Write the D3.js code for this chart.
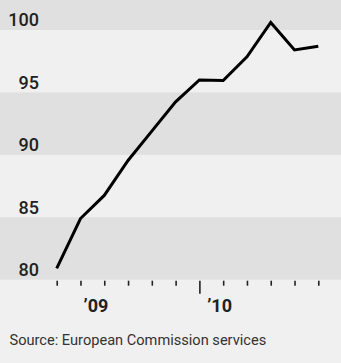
<!DOCTYPE html>
<html>
<head>
<meta charset="utf-8">
<script src="https://cdn.jsdelivr.net/npm/d3@7"></script>
<style>
  html, body { margin: 0; padding: 0; background: #f0f0f0; }
  svg { display: block; }
</style>
</head>
<body>
<div class="chart"></div>
<script>
// monthly index
let values = [80.9, 84.9, 86.75, 89.55, 91.9, 94.25, 96.0, 95.95, 97.85, 100.6, 98.4, 98.7];
let yTicks = [80, 85, 90, 95, 100];
let bands = [80, 90, 100]; // darker bands start at these values, 5 wide
let yearLabels = ["’09", "’10"];
let yearLabelPos = [1.65, 6.85];
let yearTick = 6;
let source = "Source: European Commission services";

let width = 341;
let height = 363;
let margin = { top: 0, bottom: 84, left: 0, right: 0 };
let plotBottom = height - margin.bottom + 0.7;

let x = d3.scaleLinear().domain([0, values.length - 1]).range([56.7, 318.3]);
let y = d3.scaleLinear().domain([80, 100]).range([plotBottom, 30]);

let svg = d3.select(".chart").append("svg")
  .attr("width", width)
  .attr("height", height);

svg.append("rect")
  .attr("width", width)
  .attr("height", height)
  .attr("fill", "#f0f0f0");

// alternating bands
svg.selectAll(".band").data(bands).enter().append("rect")
  .attr("class", "band")
  .attr("x", 0)
  .attr("width", width)
  .attr("y", d => d === 100 ? 0 : y(d + 5))
  .attr("height", d => d === 100 ? y(100) : y(d) - y(d + 5))
  .attr("fill", "#e0e0e0");

// y labels sit just above their gridline
svg.selectAll(".ylab").data(yTicks).enter().append("text")
  .attr("class", "ylab")
  .attr("x", 39)
  .attr("y", d => y(d) - 3.6)
  .attr("text-anchor", "end")
  .attr("font-family", "Roboto, sans-serif")
  .attr("font-weight", 500)
  .attr("font-size", 18)
  .attr("fill", "#222")
  .text(d => d);

// x ticks
let xAxis = d3.axisBottom(x)
  .tickValues(d3.range(values.length))
  .tickSize(5)
  .tickFormat("");

let gx = svg.append("g")
  .attr("transform", "translate(0," + (plotBottom + 1) + ")")
  .call(xAxis);
gx.select(".domain").remove();
gx.selectAll(".tick line")
  .attr("stroke", "#222")
  .attr("stroke-width", 1.6)
  .attr("y2", d => d === yearTick ? 13 : 5);

svg.selectAll(".xlab").data(yearLabels).enter().append("text")
  .attr("class", "xlab")
  .attr("x", (d, i) => x(yearLabelPos[i]))
  .attr("y", 311.5)
  .attr("text-anchor", "middle")
  .attr("font-family", "Roboto, sans-serif")
  .attr("font-weight", "bold")
  .attr("font-size", 18)
  .attr("fill", "#222")
  .text(d => d);

let line = d3.line()
  .x((d, i) => x(i))
  .y(d => y(d));

svg.append("path")
  .datum(values)
  .attr("d", line)
  .attr("fill", "none")
  .attr("stroke", "#000")
  .attr("stroke-width", 3)
  .attr("stroke-linejoin", "miter");

svg.append("text")
  .attr("x", 9.5)
  .attr("y", 344.5)
  .attr("font-family", "Roboto, sans-serif")
  .attr("font-size", 14.6)
  .attr("fill", "#333")
  .text(source);
</script>
</body>
</html>
